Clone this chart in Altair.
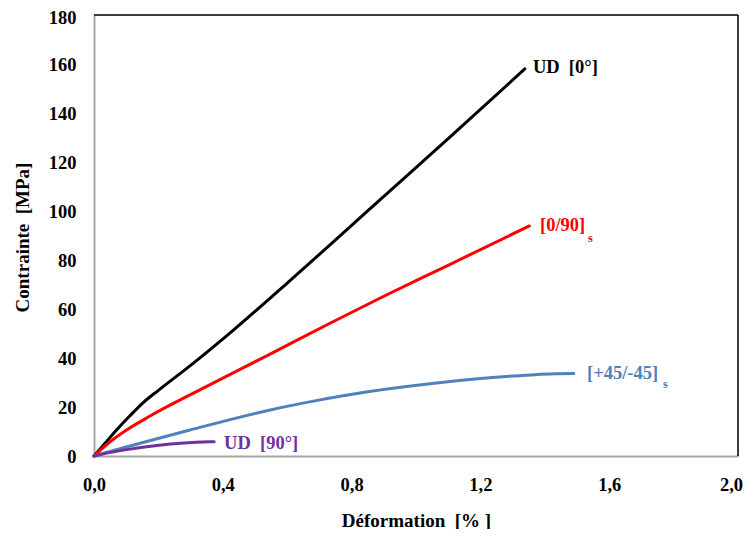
import altair as alt
import pandas as pd

# ---- data ----
strain_ud0 = [0, 0.035, 0.07, 0.11, 0.153, 0.2, 0.3, 0.433, 0.6, 0.888, 1.1, 1.338]
stress_ud0 = [0, 5.3, 10.6, 16.2, 21.8, 26.8, 37.0, 51.4, 70.6, 104.5, 129.5, 158.0]

strain_090 = [0, 0.05, 0.1, 0.174, 0.35, 0.541, 0.733, 0.9, 1.085, 1.352]
stress_090 = [0, 5.8, 10.5, 16.3, 28.4, 41.2, 54.2, 65.2, 76.9, 93.9]

strain_45 = [0, 0.05, 0.143, 0.298, 0.547, 0.69, 0.85, 1.043, 1.2, 1.354, 1.43, 1.49]
stress_45 = [0, 1.9, 5.2, 10.6, 18.8, 22.6, 26.2, 29.5, 31.6, 33.1, 33.6, 33.7]

strain_ud90 = [0, 0.03, 0.091, 0.195, 0.28, 0.36, 0.373]
stress_ud90 = [0, 0.9, 2.4, 4.3, 5.3, 5.8, 5.85]

series_names = ["UD [0°]", "[0/90]s", "[+45/-45]s", "UD [90°]"]
series_colors = ["#000000", "#FF0000", "#4F81BD", "#7030A0"]

label_text = ["UD\u00a0 [0°]", "[0/90]", "[+45/-45]", "UD\u00a0 [90°]"]
label_x = [1.363, 1.385, 1.531, 0.404]
label_y = [158.9, 94.3, 33.9, 5.3]

sub_text = ["s", "s"]
sub_series = ["[0/90]s", "[+45/-45]s"]
sub_x = [1.534, 1.767]
sub_y = [89.0, 29.4]

x_ticks = [0, 0.4, 0.8, 1.2, 1.6, 2.0]
y_ticks = [0, 20, 40, 60, 80, 100, 120, 140, 160, 180]

# ---- build tables ----
rows = []
for name, xs, ys in zip(series_names,
                        [strain_ud0, strain_090, strain_45, strain_ud90],
                        [stress_ud0, stress_090, stress_45, stress_ud90]):
    for i, (a, b) in enumerate(zip(xs, ys)):
        rows.append({"series": name, "strain": a, "stress": b, "idx": i})
df = pd.DataFrame(rows)

labels = pd.DataFrame({"series": series_names, "text": label_text,
                       "strain": label_x, "stress": label_y})
subs = pd.DataFrame({"series": sub_series, "text": sub_text,
                     "strain": sub_x, "stress": sub_y})

FONT = "Liberation Serif"
W, H = 644, 441

xscale = alt.Scale(domain=[0, 2], nice=False, zero=False)
yscale = alt.Scale(domain=[0, 180], nice=False)
cscale = alt.Scale(domain=series_names, range=series_colors)

xaxis = alt.Axis(values=x_ticks, grid=False, ticks=False, tickSize=0,
                 labelExpr="replace(format(datum.value, '.1f'), '.', ',')",
                 labelFlush=False, labelOverlap=False,
                 labelOffset={"condition": {"test": "datum.value >= 2", "value": -7},
                              "value": 0},
                 labelPadding=19, labelFontSize=18.5, labelFontWeight="bold",
                 labelFont=FONT, labelColor="#000000",
                 domainColor="#A6A6A6", domainWidth=2,
                 title="Déformation\u00a0 [% ]", titleFont=FONT, titleFontSize=19,
                 titleFontWeight="bold", titleColor="#000000",
                 titleY=64, titleBaseline="middle")
yaxis = alt.Axis(values=y_ticks, grid=False, ticks=False, tickSize=0,
                 labelFlush=False, labelOverlap=False,
                 labelOffset={"condition": {"test": "datum.value >= 180", "value": 2},
                              "value": 0},
                 labelPadding=18, labelFontSize=18.5, labelFontWeight="bold",
                 labelFont=FONT, labelColor="#000000",
                 domainColor="#A6A6A6", domainWidth=2,
                 title="Contrainte\u00a0 [MPa]", titleFont=FONT, titleFontSize=19,
                 titleFontWeight="bold", titleColor="#000000",
                 titleX=-72, titleY=222, titleAngle=-90, titleAlign="center",
                 titleBaseline="middle")

lines = alt.Chart(df).mark_line(strokeWidth=3, interpolate="monotone",
                                strokeCap="round").encode(
    x=alt.X("strain:Q", scale=xscale, axis=xaxis),
    y=alt.Y("stress:Q", scale=yscale, axis=yaxis),
    color=alt.Color("series:N", scale=cscale, legend=None),
    detail="series:N",
    order="idx:Q",
)

text = alt.Chart(labels).mark_text(align="left", baseline="middle", font=FONT,
                                   fontSize=18.5, fontWeight="bold").encode(
    x=alt.X("strain:Q", scale=xscale),
    y=alt.Y("stress:Q", scale=yscale),
    text="text:N",
    color=alt.Color("series:N", scale=cscale, legend=None),
)

subtext = alt.Chart(subs).mark_text(align="left", baseline="middle", font=FONT,
                                    fontSize=12.5, fontWeight="bold").encode(
    x=alt.X("strain:Q", scale=xscale),
    y=alt.Y("stress:Q", scale=yscale),
    text="text:N",
    color=alt.Color("series:N", scale=cscale, legend=None),
)

top_rule = alt.Chart(pd.DataFrame({"a": [0]})).mark_rule(
    color="#000000", strokeWidth=1.5).encode(
    x=alt.value(0), x2=alt.value(W), y=alt.value(0))
right_rule = alt.Chart(pd.DataFrame({"a": [0]})).mark_rule(
    color="#000000", strokeWidth=1.5).encode(
    x=alt.value(W), y=alt.value(0), y2=alt.value(H))

chart = alt.layer(top_rule, right_rule, lines, text, subtext).properties(
    width=W, height=H,
    autosize=alt.AutoSizeParams(type="none"),
    padding={"left": 86, "top": 7, "right": 6, "bottom": 73},
).configure_view(stroke=None).configure(background="#FFFFFF")

chart.save("out.html", embed_options={"renderer": "svg", "actions": False})
